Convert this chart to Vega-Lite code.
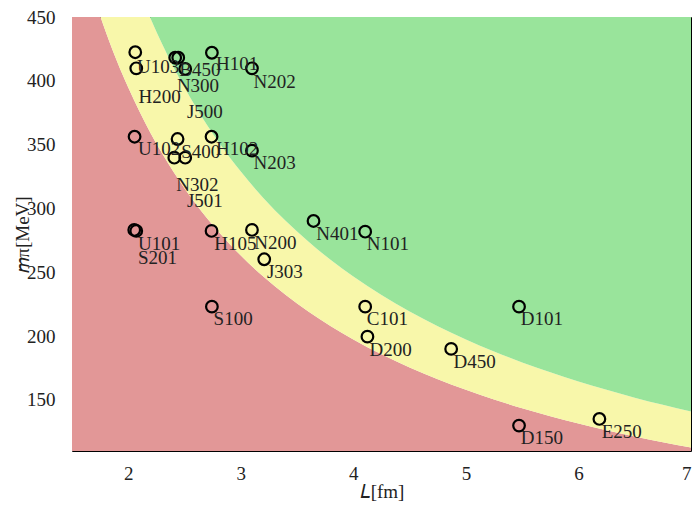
{
  "$schema": "https://vega.github.io/schema/vega-lite/v6.json",
  "width": 619,
  "height": 434,
  "autosize": {"type": "none"},
  "padding": {"left": 72, "top": 17, "right": 5, "bottom": 56},
  "background": "white",
  "config": {
    "view": {"stroke": "#000", "strokeWidth": 1},
    "axis": {"labelFont": "Liberation Serif", "titleFont": "Liberation Serif", "labelFontSize": 19, "titleFontSize": 19, "labelColor": "#222", "titleColor": "#222", "titleFontWeight": "normal", "grid": false, "ticks": false, "domain": false}
  },
  "datasets": {
    "bounds": [
      {"L": 1.5, "b4": 526.2, "b5": 657.8},
      {"L": 1.6, "b4": 493.3, "b5": 616.6},
      {"L": 1.7, "b4": 464.3, "b5": 580.4},
      {"L": 1.8, "b4": 438.5, "b5": 548.1},
      {"L": 1.9, "b4": 415.4, "b5": 519.3},
      {"L": 2.0, "b4": 394.7, "b5": 493.3},
      {"L": 2.1, "b4": 375.9, "b5": 469.8},
      {"L": 2.2, "b4": 358.8, "b5": 448.5},
      {"L": 2.3, "b4": 343.2, "b5": 429.0},
      {"L": 2.4, "b4": 328.9, "b5": 411.1},
      {"L": 2.5, "b4": 315.7, "b5": 394.7},
      {"L": 2.6, "b4": 303.6, "b5": 379.5},
      {"L": 2.7, "b4": 292.3, "b5": 365.4},
      {"L": 2.8, "b4": 281.9, "b5": 352.4},
      {"L": 2.9, "b4": 272.2, "b5": 340.2},
      {"L": 3.0, "b4": 263.1, "b5": 328.9},
      {"L": 3.2, "b4": 246.7, "b5": 308.3},
      {"L": 3.4, "b4": 232.2, "b5": 290.2},
      {"L": 3.6, "b4": 219.3, "b5": 274.1},
      {"L": 3.8, "b4": 207.7, "b5": 259.6},
      {"L": 4.0, "b4": 197.3, "b5": 246.7},
      {"L": 4.25, "b4": 185.7, "b5": 232.2},
      {"L": 4.5, "b4": 175.4, "b5": 219.3},
      {"L": 4.75, "b4": 166.2, "b5": 207.7},
      {"L": 5.0, "b4": 157.9, "b5": 197.3},
      {"L": 5.25, "b4": 150.3, "b5": 187.9},
      {"L": 5.5, "b4": 143.5, "b5": 179.4},
      {"L": 5.75, "b4": 137.3, "b5": 171.6},
      {"L": 6.0, "b4": 131.6, "b5": 164.4},
      {"L": 6.25, "b4": 126.3, "b5": 157.9},
      {"L": 6.5, "b4": 121.4, "b5": 151.8},
      {"L": 6.75, "b4": 116.9, "b5": 146.2},
      {"L": 7.0, "b4": 112.8, "b5": 140.9}
    ],
    "ensembles": [
      {"name": "U103", "L": 2.062, "mpi": 422.4, "lx": 2.077, "ly": 411.2},
      {"name": "H200", "L": 2.071, "mpi": 409.8, "lx": 2.091, "ly": 387.6},
      {"name": "N300", "L": 2.417, "mpi": 418.1, "lx": 2.432, "ly": 396.3},
      {"name": "B450", "L": 2.444, "mpi": 418.1, "lx": 2.453, "ly": 408.5},
      {"name": "J500", "L": 2.506, "mpi": 409.3, "lx": 2.521, "ly": 375.8},
      {"name": "H101", "L": 2.743, "mpi": 422.0, "lx": 2.779, "ly": 413.0},
      {"name": "N202", "L": 3.099, "mpi": 409.8, "lx": 3.113, "ly": 399.3},
      {"name": "U102", "L": 2.056, "mpi": 356.2, "lx": 2.086, "ly": 346.6},
      {"name": "S400", "L": 2.438, "mpi": 354.4, "lx": 2.471, "ly": 344.5},
      {"name": "H102", "L": 2.740, "mpi": 356.2, "lx": 2.779, "ly": 346.6},
      {"name": "N203", "L": 3.099, "mpi": 345.3, "lx": 3.113, "ly": 335.4},
      {"name": "N302", "L": 2.409, "mpi": 339.8, "lx": 2.426, "ly": 318.4},
      {"name": "J501", "L": 2.506, "mpi": 339.8, "lx": 2.521, "ly": 306.1},
      {"name": "U101", "L": 2.053, "mpi": 283.2, "lx": 2.086, "ly": 272.2},
      {"name": "S201", "L": 2.071, "mpi": 282.4, "lx": 2.086, "ly": 261.0},
      {"name": "H105", "L": 2.740, "mpi": 282.4, "lx": 2.764, "ly": 272.2},
      {"name": "N200", "L": 3.099, "mpi": 283.2, "lx": 3.119, "ly": 272.7},
      {"name": "J303", "L": 3.208, "mpi": 260.2, "lx": 3.232, "ly": 250.5},
      {"name": "N401", "L": 3.646, "mpi": 290.2, "lx": 3.670, "ly": 280.3},
      {"name": "N101", "L": 4.105, "mpi": 281.8, "lx": 4.120, "ly": 272.2},
      {"name": "S100", "L": 2.743, "mpi": 223.1, "lx": 2.758, "ly": 213.5},
      {"name": "C101", "L": 4.105, "mpi": 223.1, "lx": 4.120, "ly": 213.7},
      {"name": "D200", "L": 4.125, "mpi": 199.6, "lx": 4.143, "ly": 188.9},
      {"name": "D450", "L": 4.869, "mpi": 190.0, "lx": 4.889, "ly": 179.8},
      {"name": "D101", "L": 5.472, "mpi": 223.1, "lx": 5.488, "ly": 213.7},
      {"name": "D150", "L": 5.472, "mpi": 129.9, "lx": 5.488, "ly": 120.4},
      {"name": "E250", "L": 6.186, "mpi": 135.1, "lx": 6.207, "ly": 124.9}
    ]
  },
  "layer": [
    {
      "data": {"name": "bounds"},
      "mark": {"type": "area", "color": "#e29797", "clip": true, "interpolate": "monotone", "opacity": 1},
      "encoding": {
        "x": {"field": "L", "type": "quantitative", "scale": {"domain": [1.5, 7], "nice": false, "zero": false},
          "axis": {"values": [2, 3, 4, 5, 6, 7], "format": "d", "title": "𝐿[fm]", "labelPadding": 13, "titleY": 40, "titleBaseline": "middle"}},
        "y": {"field": "b4", "type": "quantitative", "scale": {"domain": [110, 450], "nice": false, "zero": false},
          "axis": {"values": [150, 200, 250, 300, 350, 400, 450], "title": "𝑚π[MeV]", "labelPadding": 17, "titleX": -50, "titleY": 217, "titleAngle": -90, "titleAlign": "center", "titleBaseline": "middle"}},
        "y2": {"datum": 110}
      }
    },
    {
      "data": {"name": "bounds"},
      "mark": {"type": "area", "color": "#f8f7aa", "clip": true, "interpolate": "monotone", "opacity": 1},
      "encoding": {
        "x": {"field": "L", "type": "quantitative"},
        "y": {"field": "b5", "type": "quantitative"},
        "y2": {"field": "b4"}
      }
    },
    {
      "data": {"name": "bounds"},
      "mark": {"type": "area", "color": "#99e49b", "clip": true, "interpolate": "monotone", "opacity": 1},
      "encoding": {
        "x": {"field": "L", "type": "quantitative"},
        "y": {"field": "b5", "type": "quantitative"},
        "y2": {"datum": 450}
      }
    },
    {
      "data": {"name": "ensembles"},
      "mark": {"type": "circle", "filled": false, "stroke": "#000", "strokeWidth": 2.2, "size": 135, "opacity": 1},
      "encoding": {
        "x": {"field": "L", "type": "quantitative"},
        "y": {"field": "mpi", "type": "quantitative"}
      }
    },
    {
      "data": {"name": "ensembles"},
      "mark": {"type": "text", "align": "left", "baseline": "middle", "font": "Liberation Serif", "fontSize": 19, "color": "#222"},
      "encoding": {
        "x": {"field": "lx", "type": "quantitative"},
        "y": {"field": "ly", "type": "quantitative"},
        "text": {"field": "name"}
      }
    }
  ]
}
